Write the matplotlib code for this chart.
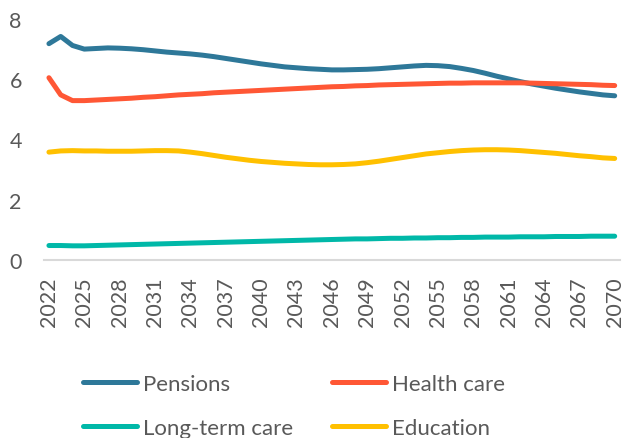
import numpy as np
import matplotlib
matplotlib.use("Agg")
import matplotlib.pyplot as plt

plt.rcParams["font.family"] = ["Lato", "DejaVu Sans"]

years = list(range(2022, 2071))

pensions = [7.18, 7.42, 7.12, 7.00, 7.02, 7.04, 7.03, 7.01, 6.98, 6.94,
            6.90, 6.87, 6.84, 6.80, 6.75, 6.69, 6.63, 6.57, 6.51, 6.46,
            6.41, 6.38, 6.35, 6.33, 6.31, 6.31, 6.32, 6.33, 6.35, 6.38,
            6.41, 6.44, 6.46, 6.45, 6.42, 6.36, 6.29, 6.20, 6.10, 6.01,
            5.92, 5.84, 5.77, 5.70, 5.64, 5.58, 5.53, 5.48, 5.45]
health_care = [6.05, 5.48, 5.29, 5.29, 5.31, 5.33, 5.35, 5.37, 5.40, 5.42,
               5.45, 5.48, 5.50, 5.52, 5.55, 5.57, 5.59, 5.61, 5.63, 5.65,
               5.67, 5.69, 5.71, 5.73, 5.75, 5.76, 5.78, 5.79, 5.81, 5.82,
               5.83, 5.84, 5.85, 5.86, 5.87, 5.87, 5.88, 5.88, 5.88, 5.88,
               5.88, 5.87, 5.86, 5.85, 5.84, 5.83, 5.82, 5.80, 5.79]
long_term_care = [0.48, 0.48, 0.47, 0.47, 0.48, 0.49, 0.50, 0.51, 0.52, 0.53,
                  0.54, 0.55, 0.56, 0.57, 0.58, 0.59, 0.60, 0.61, 0.62, 0.63,
                  0.64, 0.65, 0.66, 0.67, 0.68, 0.69, 0.70, 0.70, 0.71, 0.72,
                  0.72, 0.73, 0.73, 0.74, 0.74, 0.75, 0.75, 0.76, 0.76, 0.76,
                  0.77, 0.77, 0.77, 0.78, 0.78, 0.78, 0.79, 0.79, 0.79]
education = [3.58, 3.62, 3.63, 3.62, 3.62, 3.61, 3.61, 3.61, 3.62, 3.63,
             3.63, 3.62, 3.58, 3.53, 3.47, 3.41, 3.36, 3.31, 3.27, 3.24,
             3.21, 3.19, 3.17, 3.16, 3.16, 3.17, 3.19, 3.23, 3.28, 3.34,
             3.40, 3.46, 3.52, 3.56, 3.60, 3.63, 3.65, 3.66, 3.66, 3.65,
             3.63, 3.60, 3.57, 3.54, 3.50, 3.46, 3.43, 3.39, 3.37]

tick_years = years[::3]
yticks = [0, 2, 4, 6, 8]

series = [
    ("Pensions", pensions, "#2E7899"),
    ("Health care", health_care, "#FF5735"),
    ("Long-term care", long_term_care, "#00B8A8"),
    ("Education", education, "#FFC000"),
]
text_grey = "#595959"

fig = plt.figure(figsize=(6.24, 4.39), dpi=100)
ax = fig.add_axes([0.0705, 0.4055, 0.9225, 0.549])

lines = {}
for name, vals, col in series:
    lines[name], = ax.plot(years, vals, color=col, lw=3.6,
                           solid_capstyle="round", solid_joinstyle="round",
                           label=name)

ax.set_xlim(2021.58, 2070.42)
ax.set_ylim(0, 8)
ax.set_xticks(tick_years)
ax.set_xticklabels([str(y) for y in tick_years], rotation=90,
                   fontsize=15.5, color=text_grey)
ax.set_yticks(yticks)
ax.set_yticklabels([str(v) for v in yticks], fontsize=15.5, color=text_grey)
ax.tick_params(axis="x", length=0, pad=12)
ax.tick_params(axis="y", length=0, pad=16)

for side in ("top", "right", "left"):
    ax.spines[side].set_visible(False)
ax.spines["bottom"].set_color("#D9D9D9")
ax.spines["bottom"].set_linewidth(1.5)

# legend is filled column by column, so list entries to read row by row
order = ["Pensions", "Long-term care", "Health care", "Education"]
fig.legend([lines[n] for n in order], order, ncol=2, loc="center left",
           bbox_to_anchor=(83 / 624, 1 - 407 / 439), frameon=False,
           fontsize=16, labelcolor=text_grey, handlelength=2.45,
           handletextpad=0.25, columnspacing=1.75, labelspacing=1.1,
           borderpad=0, borderaxespad=0)

fig.savefig("out.png", dpi=100)
